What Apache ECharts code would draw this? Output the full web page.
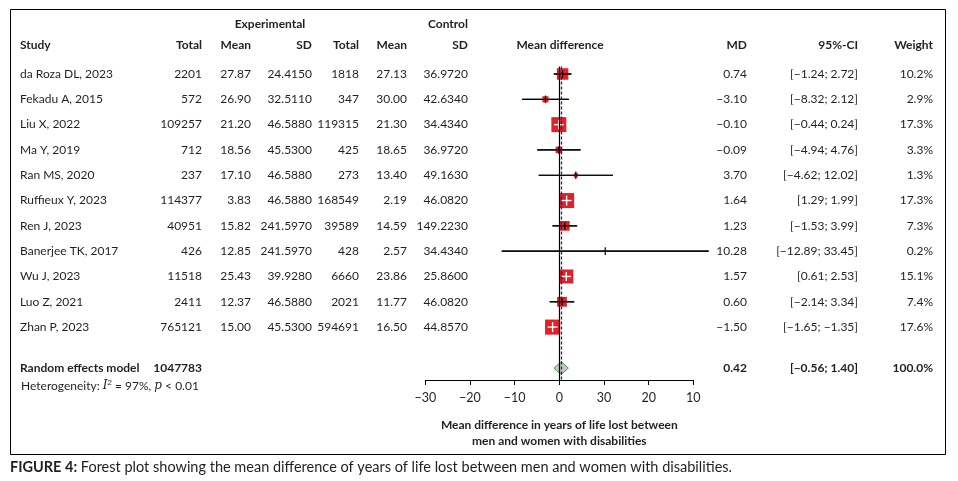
<!DOCTYPE html>
<html>
<head>
<meta charset="utf-8">
<script src="https://cdn.jsdelivr.net/npm/echarts@6/dist/echarts.min.js"></script>
<style>
html,body{margin:0;padding:0;background:#fff;}
#chart{width:958px;height:481px;}
</style>
</head>
<body>
<div id="chart"></div>
<script>
// ---------------- DATA ----------------
const studies = ["da Roza DL, 2023","Fekadu A, 2015","Liu X, 2022","Ma Y, 2019","Ran MS, 2020","Ruffieux Y, 2023","Ren J, 2023","Banerjee TK, 2017","Wu J, 2023","Luo Z, 2021","Zhan P, 2023"];
const expTotal = [2201,572,109257,712,237,114377,40951,426,11518,2411,765121];
const expMean = [27.87,26.90,21.20,18.56,17.10,3.83,15.82,12.85,25.43,12.37,15.00];
const expSD = [24.4150,32.5110,46.5880,45.5300,46.5880,46.5880,241.5970,241.5970,39.9280,46.5880,45.5300];
const ctrlTotal = [1818,347,119315,425,273,168549,39589,428,6660,2021,594691];
const ctrlMean = [27.13,30.00,21.30,18.65,13.40,2.19,14.59,2.57,23.86,11.77,16.50];
const ctrlSD = [36.9720,42.6340,34.4340,36.9720,49.1630,46.0820,149.2230,34.4340,25.8600,46.0820,44.8570];
const md = [0.74,-3.10,-0.10,-0.09,3.70,1.64,1.23,10.28,1.57,0.60,-1.50];
const ciLow = [-1.24,-8.32,-0.44,-4.94,-4.62,1.29,-1.53,-12.89,0.61,-2.14,-1.65];
const ciHigh = [2.72,2.12,0.24,4.76,12.02,1.99,3.99,33.45,2.53,3.34,-1.35];
const weight = [10.2,2.9,17.3,3.3,1.3,17.3,7.3,0.2,15.1,7.4,17.6];
const summaryLabel = "Random effects model";
const summaryTotal = 1047783;
const summaryMD = 0.42;
const summaryLow = -0.56;
const summaryHigh = 1.40;
const summaryWeight = 100.0;
const heterogeneityI2 = 97;
const heterogeneityP = "< 0.01";
const tickLabels = ["−30","−20","−10","0","30","20","10"];
const axisTitle = ["Mean difference in years of life lost between","men and women with disabilities"];
const captionBold = "FIGURE 4:";
const captionText = " Forest plot showing the mean difference of years of life lost between men and women with disabilities.";

// ---------------- LAYOUT ----------------
const FONT = 'Lato';
const TXT = '#231f20';
const SUMMARY_ROW = 11.62;
const SQ = 3.6; // square side = SQ * sqrt(weight)
const RED = '#e3202a';

function neg(s){ return s.replace('-', '−'); }
function f2(v){ return neg(v.toFixed(2)); }
function f4(v){ return v.toFixed(4); }
function ci(lo, hi){ return '[' + f2(lo) + '; ' + f2(hi) + ']'; }

const cols = [
  {x:20,  align:'left',  get:i=>studies[i]},
  {x:202, align:'right', get:i=>String(expTotal[i])},
  {x:251, align:'right', get:i=>expMean[i].toFixed(2)},
  {x:312, align:'right', get:i=>f4(expSD[i])},
  {x:359, align:'right', get:i=>String(ctrlTotal[i])},
  {x:407, align:'right', get:i=>ctrlMean[i].toFixed(2)},
  {x:468, align:'right', get:i=>f4(ctrlSD[i])},
  {x:747, align:'right', get:i=>f2(md[i])},
  {x:858, align:'right', get:i=>ci(ciLow[i], ciHigh[i])},
  {x:933, align:'right', get:i=>weight[i].toFixed(1) + '%'}
];

const chart = echarts.init(document.getElementById('chart'), null, {renderer:'canvas'});

function renderStudy(params, api){
  const i = api.value(1);
  const c = api.coord([api.value(0), i]);
  const lo = api.coord([api.value(2), i]);
  const hi = api.coord([api.value(3), i]);
  const s = SQ * Math.sqrt(api.value(4));
  const inside = lo[0] >= c[0] - s/2 && hi[0] <= c[0] + s/2;
  const ch = [];
  ch.push({type:'line', shape:{x1:lo[0], y1:c[1], x2:hi[0], y2:c[1]}, style:{stroke:'#000', lineWidth:1.2}});
  ch.push({type:'rect', shape:{x:c[0]-s/2, y:c[1]-s/2, width:s, height:s}, style:{fill:RED}});
  if (inside) {
    const a = s * 0.33;
    ch.push({type:'line', shape:{x1:c[0]-a, y1:c[1], x2:c[0]+a, y2:c[1]}, style:{stroke:'#fff', lineWidth:1.4}});
    ch.push({type:'line', shape:{x1:c[0], y1:c[1]-a, x2:c[0], y2:c[1]+a}, style:{stroke:'#fff', lineWidth:1.4}});
  } else {
    ch.push({type:'line', shape:{x1:lo[0], y1:c[1], x2:hi[0], y2:c[1]}, style:{stroke:'#000', lineWidth:1.2}});
    ch.push({type:'line', shape:{x1:c[0], y1:c[1]-3.8, x2:c[0], y2:c[1]+3.8}, style:{stroke:'#000', lineWidth:1.2}});
  }
  return {type:'group', children:ch};
}

function renderRowText(params, api){
  const i = api.value(0);
  const y = api.coord([0, i])[1];
  return {type:'group', children: cols.map(cdef => ({
    type:'text', x:cdef.x, y:y,
    style:{text:cdef.get(i), fill:TXT, font:'12px ' + FONT, align:cdef.align, verticalAlign:'middle'}
  }))};
}

function renderSummary(params, api){
  const y = api.coord([0, SUMMARY_ROW])[1];
  const c = api.coord([api.value(0), SUMMARY_ROW]);
  const lo = api.coord([api.value(1), SUMMARY_ROW]);
  const hi = api.coord([api.value(2), SUMMARY_ROW]);
  const h = 6.5;
  const bold = 'bold 12px ' + FONT;
  return {type:'group', children:[
    {type:'polygon', shape:{points:[[lo[0]-2.8,y],[c[0],y-h],[hi[0]+2.8,y],[c[0],y+h]]}, style:{fill:'#c8c8c8', stroke:'#3aa53a', lineWidth:1}},
    {type:'text', x:20, y:y, style:{text:summaryLabel, fill:TXT, font:bold, align:'left', verticalAlign:'middle'}},
    {type:'text', x:202, y:y, style:{text:String(summaryTotal), fill:TXT, font:bold, align:'right', verticalAlign:'middle'}},
    {type:'text', x:747, y:y, style:{text:f2(summaryMD), fill:TXT, font:bold, align:'right', verticalAlign:'middle'}},
    {type:'text', x:858, y:y, style:{text:ci(summaryLow, summaryHigh), fill:TXT, font:bold, align:'right', verticalAlign:'middle'}},
    {type:'text', x:933, y:y, style:{text:summaryWeight.toFixed(1) + '%', fill:TXT, font:bold, align:'right', verticalAlign:'middle'}}
  ]};
}

const hb = 'bold 12px ' + FONT;
function hdr(text, x, y, align){
  return {type:'text', x:x, y:y, style:{text:text, fill:TXT, font:hb, align:align, verticalAlign:'middle'}, silent:true};
}

const option = {
  animation:false,
  backgroundColor:'#fff',
  textStyle:{fontFamily:FONT},
  grid:{left:425.3, right:264.7, top:66.4, bottom:101},
  xAxis:{
    type:'value', min:-30, max:30, interval:10,
    axisLine:{show:true, onZero:false, lineStyle:{color:'#000', width:1}},
    axisTick:{show:true, length:5, lineStyle:{color:'#000', width:1}},
    axisLabel:{margin:11, color:TXT, fontSize:12.5, fontFamily:FONT,
      formatter:v=>tickLabels[Math.round((v+30)/10)]},
    splitLine:{show:false},
    name:axisTitle.join('\n'), nameLocation:'middle', nameGap:37,
    nameTextStyle:{fontWeight:'bold', fontSize:12, color:TXT, fontFamily:FONT, lineHeight:16}
  },
  yAxis:{type:'value', inverse:true, min:-0.3, max:12.09, show:false},
  series:[
    {
      type:'custom', name:'studies', clip:false, z:2,
      renderItem:renderStudy,
      data: md.map((m,i)=>[m, i, ciLow[i], ciHigh[i], weight[i]])
    },
    {
      type:'custom', name:'rows', clip:false, z:2,
      renderItem:renderRowText,
      data: studies.map((s,i)=>[i])
    },
    {
      type:'custom', name:'summary', clip:false, z:3,
      renderItem:renderSummary,
      data:[[summaryMD, summaryLow, summaryHigh]]
    },
    {
      type:'line', name:'ref', data:[], z:5,
      markLine:{
        silent:true, symbol:['none','none'], label:{show:false},
        data:[
          {xAxis:0, lineStyle:{color:'#000', width:1.2, type:'solid'}},
          {xAxis:summaryMD, lineStyle:{color:'#1b2a7a', width:1.3, type:[3,2]}}
        ]
      }
    }
  ],
  graphic:[
    {type:'rect', shape:{x:10.5, y:9.5, width:935, height:445}, style:{fill:'none', stroke:'#000', lineWidth:1}, z:0},
    hdr('Experimental', 270, 24, 'center'),
    hdr('Control', 468, 24, 'right'),
    hdr('Study', 20, 45, 'left'),
    hdr('Total', 202, 45, 'right'),
    hdr('Mean', 251, 45, 'right'),
    hdr('SD', 312, 45, 'right'),
    hdr('Total', 359, 45, 'right'),
    hdr('Mean', 407, 45, 'right'),
    hdr('SD', 468, 45, 'right'),
    hdr('Mean difference', 560, 45, 'center'),
    hdr('MD', 747, 45, 'right'),
    hdr('95%-CI', 858, 45, 'right'),
    hdr('Weight', 933, 45, 'right'),
    {type:'text', x:21, y:386, style:{
      text:'Heterogeneity: {i|I}{s|2} = ' + heterogeneityI2 + '%, {i|p} ' + heterogeneityP,
      rich:{i:{fontStyle:'italic', fontFamily:'DejaVu Serif', fontSize:12, fill:TXT}, s:{fontSize:8, verticalAlign:'top', fill:TXT, padding:[0,0,6,0]}},
      fill:TXT, font:'12px ' + FONT, align:'left', verticalAlign:'middle'}},
    {type:'text', x:10, y:467, style:{
      text:'{b|' + captionBold + '}' + captionText,
      rich:{b:{fontWeight:'bold', fontSize:14.5, fontFamily:FONT, fill:TXT}},
      fill:TXT, font:'14.5px ' + FONT, align:'left', verticalAlign:'middle'}}
  ]
};
chart.setOption(option);
</script>
</body>
</html>
